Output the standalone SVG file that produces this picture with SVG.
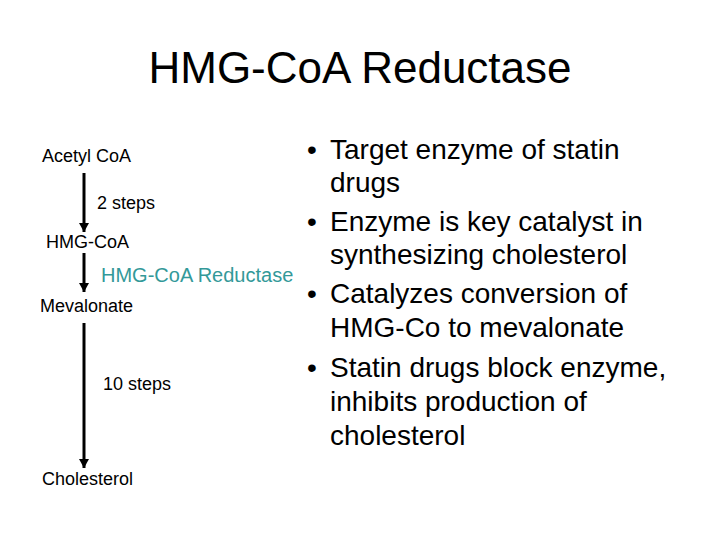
<svg xmlns="http://www.w3.org/2000/svg" width="720" height="540" viewBox="0 0 720 540">
<style>
text{font-family:"Liberation Sans",Arial,sans-serif;fill:#000}
.t{font-size:44px}
.l{font-size:18px}
.e{font-size:20px;fill:#339999}
.b{font-size:28px}
.c{stroke:#000;stroke-width:3;fill:none}
</style>
<defs>
<marker id="ad" markerWidth="10" markerHeight="9" refX="5" refY="9" markerUnits="userSpaceOnUse" viewBox="0 0 10 9">
<path d="M0,0 L10,0 L5,9 Z" fill="#000"/>
</marker>
</defs>
<rect width="720" height="540" fill="#fff"/>
<text class="t" x="360" y="83" text-anchor="middle">HMG-CoA Reductase</text>
<g id="connectors">
<line class="c" x1="84" y1="173" x2="84" y2="232" marker-end="url(#ad)"/>
<line class="c" x1="84" y1="253" x2="84" y2="292" marker-end="url(#ad)"/>
<line class="c" x1="84" y1="323" x2="84" y2="468" marker-end="url(#ad)"/>
</g>
<g id="acetyl"><text class="l" x="42" y="162">Acetyl CoA</text></g>
<g id="steps2"><text class="l" x="97" y="209">2 steps</text></g>
<g id="hmgcoa"><text class="l" x="46" y="248">HMG-CoA</text></g>
<g id="enzyme"><text class="e" x="101" y="282">HMG-CoA Reductase</text></g>
<g id="mevalonate"><text class="l" x="40" y="312">Mevalonate</text></g>
<g id="steps10"><text class="l" x="103" y="390">10 steps</text></g>
<g id="cholesterol"><text class="l" x="42" y="485">Cholesterol</text></g>
<g id="bullets">
<text class="b" x="307" y="159">•</text><text class="b" x="330" y="159">Target enzyme of statin</text>
<text class="b" x="330" y="192">drugs</text>
<text class="b" x="307" y="231">•</text><text class="b" x="330" y="231">Enzyme is key catalyst in</text>
<text class="b" x="330" y="264">synthesizing cholesterol</text>
<text class="b" x="307" y="303">•</text><text class="b" x="330" y="303">Catalyzes conversion of</text>
<text class="b" x="330" y="337">HMG-Co to mevalonate</text>
<text class="b" x="307" y="377">•</text><text class="b" x="330" y="377">Statin drugs block enzyme,</text>
<text class="b" x="330" y="411">inhibits production of</text>
<text class="b" x="330" y="445">cholesterol</text>
</g>
</svg>
